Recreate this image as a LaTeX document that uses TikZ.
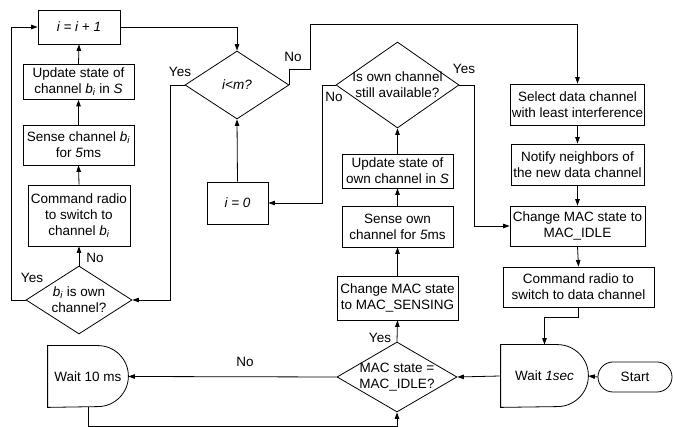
\documentclass[tikz,border=0pt]{standalone}
\usepackage{fontspec}
\setmainfont{Liberation Sans}
\usetikzlibrary{arrows.meta,shapes.geometric}
\newcommand{\bidx}{\textit{b}\textsubscript{\textit{i}}}

\begin{document}
\begin{tikzpicture}[x=1pt,y=1pt,
  font=\fontsize{13.5}{16}\selectfont,
  line width=0.8pt,
  box/.style={draw,align=center,inner sep=1pt},
  dec/.style={draw,diamond,inner sep=0pt},
  waitbox/.style={align=center,inner sep=0pt},
  arr/.style={-{Triangle[length=6.5pt,width=4.5pt]}}]
  \useasboundingbox (0,0) rectangle (673,427);
  % left column
  \node[box,minimum width=82pt,minimum height=34pt] (inc) at (79,400) {\textit{i = i + 1}};
  \node[box,minimum width=111pt,minimum height=35pt] (upd) at (78.5,345) {Update state of\\channel \bidx{} in \textit{S}};
  \node[box,minimum width=111pt,minimum height=40pt] (sense) at (78.5,282) {Sense channel \bidx\\for \textit{5}ms};
  \node[box,minimum width=102pt,minimum height=61pt] (cmd) at (79,211.5) {Command radio\\to switch to\\channel \bidx};
  \node[dec,minimum width=106pt,minimum height=68pt] (own) at (79,127) {};
  \node[align=center] at (own) {\bidx{}  is own\\channel?};
  % middle
  \node[dec,minimum width=104pt,minimum height=68pt] (im) at (237,342) {};
  \node at (im) {\textit{i<m?}};
  \node[box,minimum width=61pt,minimum height=42pt] (zero) at (237.5,224) {\textit{i = 0}};
  \node[dec,minimum width=123pt,minimum height=86pt] (avail) at (397.5,342) {};
  \node[align=center] at (avail) {Is own channel\\still available?};
  \node[box,minimum width=111pt,minimum height=34pt] (updown) at (397.5,256) {Update state of\\own channel in \textit{S}};
  \node[box,minimum width=111pt,minimum height=41pt] (senseown) at (397.5,200.5) {Sense own\\channel  for \textit{5}ms};
  \node[box,minimum width=121pt,minimum height=44pt] (sensing) at (397.5,129) {Change MAC state\\to MAC\_SENSING};
  \node[dec,minimum width=120pt,minimum height=70pt] (macidle) at (397,50) {};
  \node[align=center] at (macidle) {MAC state =\\MAC\_IDLE?};
  % right column
  \node[box,minimum width=133pt,minimum height=41pt] (select) at (577.5,322.5) {Select data channel\\with least interference};
  \node[box,minimum width=133pt,minimum height=41pt] (notify) at (577.5,262.5) {Notify neighbors of\\the new data channel};
  \node[box,minimum width=135pt,minimum height=40pt] (idle) at (577.5,201) {Change MAC state to\\MAC\_IDLE};
  \node[box,minimum width=151pt,minimum height=40pt] (cmdd) at (578.5,140) {Command radio to\\switch to data channel};
  % wait and start
  \node[waitbox,minimum width=80pt,minimum height=61pt] (w10) at (88,50.5) {Wait 10 ms};
  \node[waitbox,minimum width=87pt,minimum height=62pt] (w1) at (544.5,51) {Wait \textit{1sec}};
  \foreach \n/\r in {w10/30.5,w1/31}
    \draw (\n.north west) -- ([xshift=-\r pt]\n.north east)
      arc[start angle=90,end angle=-90,radius=\r pt] -- (\n.south west) -- cycle;
  \node[draw,rounded corners=15pt,minimum width=74pt,minimum height=30pt] (start) at (635,50) {Start};

  % connectors
  \foreach \a/\b in {upd/inc,sense/upd,cmd/sense,own/cmd,zero/im,updown/avail,
                     senseown/updown,sensing/senseown,macidle/sensing}
    \draw[arr] (\a.north) -- (\b.south);
  \foreach \a/\b in {select/notify,notify/idle,idle/cmdd}
    \draw[arr] (\a.south) -- (\b.north);
  \draw[arr] (own.west) -- (11,127) |- (inc.west);
  \draw[arr] (inc.east) -| (im.north);
  \draw[arr] (im.west) -- (170,342) |- (own.east);
  \draw[arr] (im.east) -- ++(0,16) -- ++(21,0) -- ++(0,45) -| (select.north);
  \draw[arr] (avail.west) -- (322,342) |- (zero.east);
  \draw[arr] (avail.east) -- (474,342) |- (idle.west);
  \draw[arr] (cmdd.south) -- ++(0,-10) -| (w1.north);
  \draw[arr] (start.west) -- (w1.east);
  \draw[arr] (w1.west) -- (macidle.east);
  \draw[arr] (macidle.west) -- (w10.east);
  \draw[arr] (w10.south) -- (88,1) -| (macidle.south);

  % labels
  \node at (95,169) {No};
  \node at (32,149) {Yes};
  \node at (180,355) {Yes};
  \node at (293,370) {No};
  \node at (464,358) {Yes};
  \node at (334,330) {No};
  \node at (380,89) {Yes};
  \node at (245,65) {No};
\end{tikzpicture}
\end{document}
